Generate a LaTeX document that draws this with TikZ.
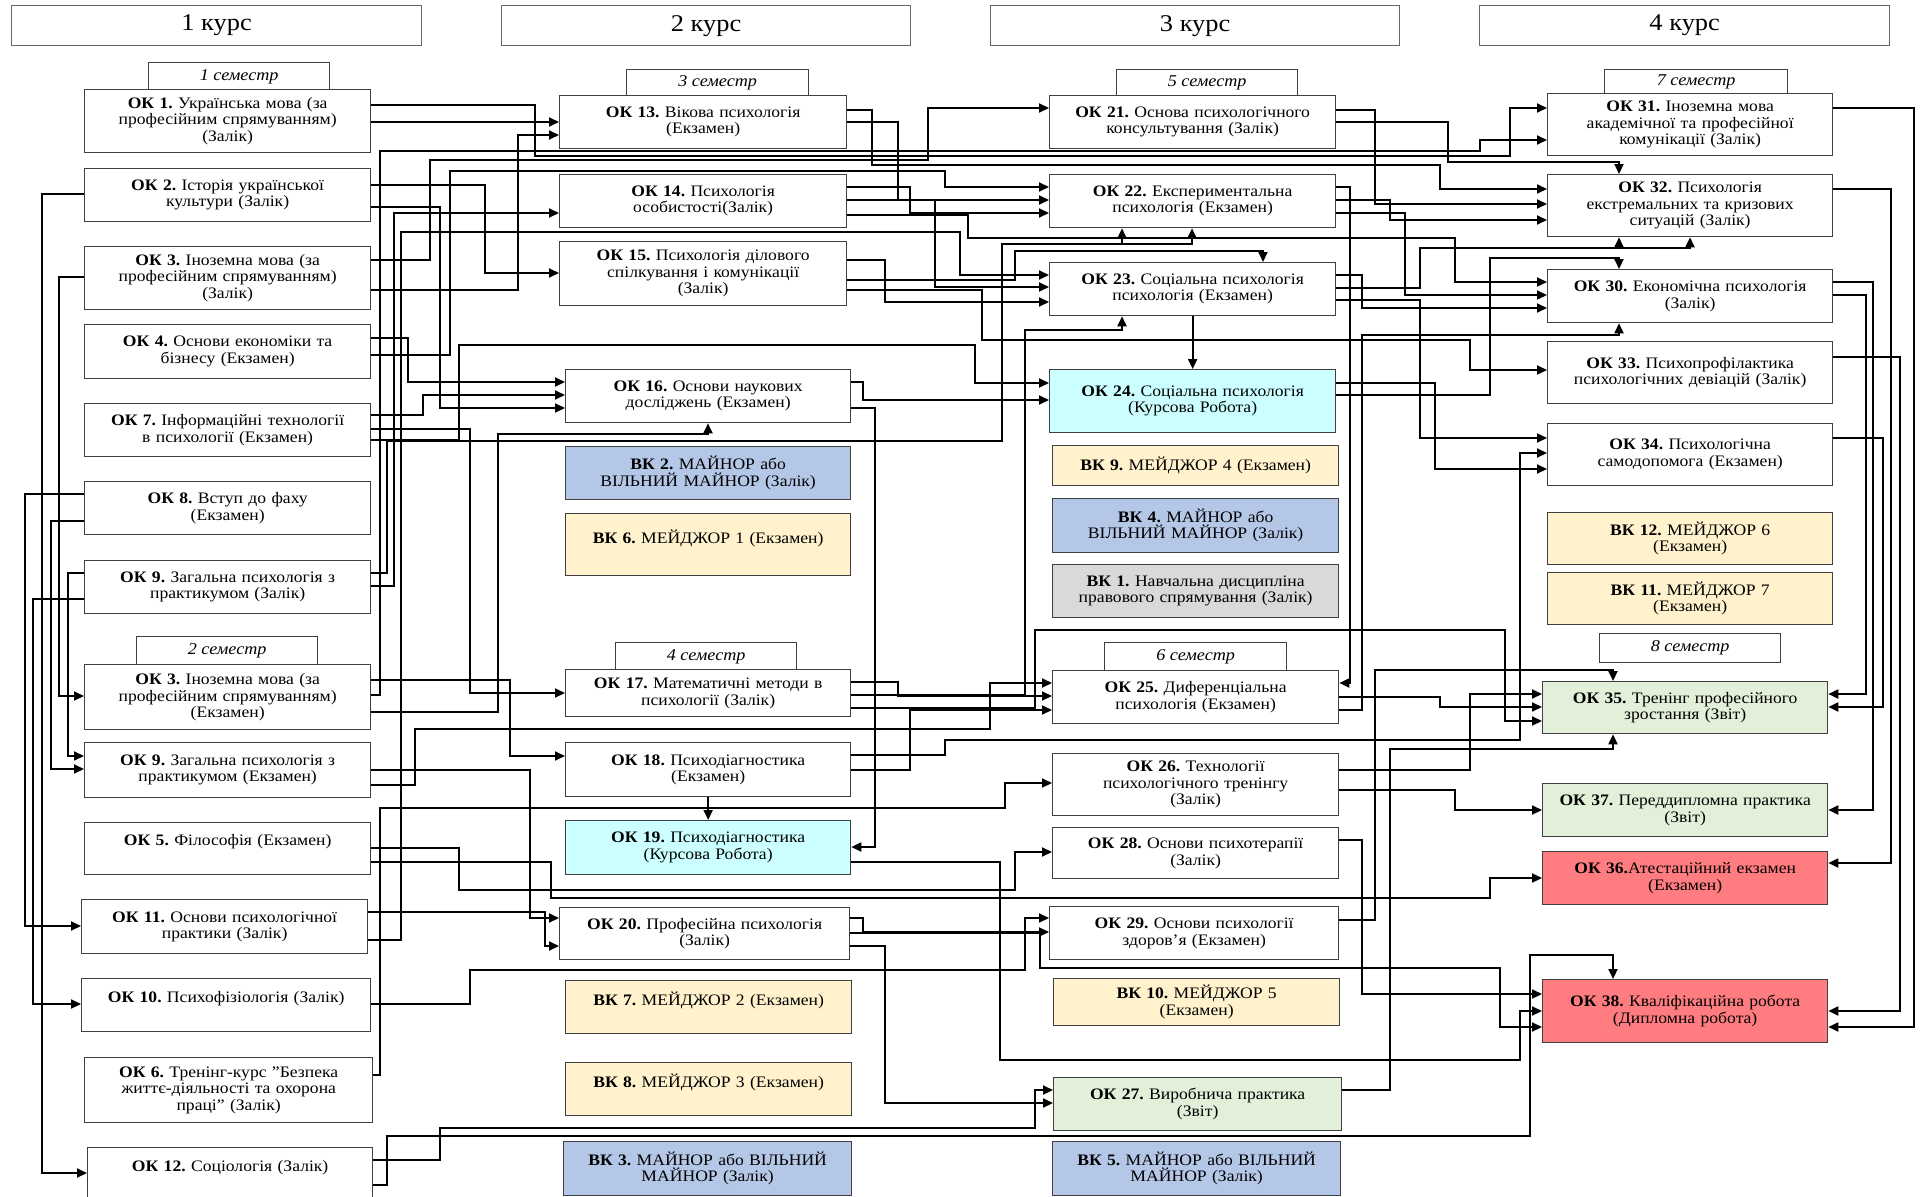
\documentclass[tikz,border=0pt]{standalone}
\usepackage{fontspec}
\setmainfont{Liberation Serif}[FakeStretch=1.1]
\usetikzlibrary{calc,arrows.meta}
\frenchspacing
\definecolor{bordc}{HTML}{404040}
\definecolor{vkblue}{HTML}{B4C7E7}
\definecolor{vkyel}{HTML}{FFF2CC}
\definecolor{vkcyan}{HTML}{CCFFFF}
\definecolor{vkgray}{HTML}{D9D9D9}
\definecolor{vkgreen}{HTML}{E2EFD9}
\definecolor{vkred}{HTML}{FF7C80}
\newcommand\boxfont{\fontsize{16}{16.5}\selectfont}
\newcommand\tabfont{\fontsize{16.5}{17}\selectfont\itshape}
\newcommand\hdrfont{\fontsize{24}{26}\selectfont}
\tikzset{
  box/.style={draw=bordc, line width=1.3pt, align=center, inner sep=0pt, font=\boxfont},
  tabbox/.style={draw=bordc, line width=1.3pt, fill=white, inner sep=0pt, font=\tabfont, anchor=north west},
  hdr/.style={draw=bordc!80, line width=1.3pt, fill=white, inner sep=0pt, font=\hdrfont, anchor=north west},
  arr/.style={draw=black, line width=1.9pt, -{Triangle[length=10pt,width=9pt]}},
}
% box: name x1 y1 x2 y2 fill text
\newcommand\bx[7]{%
  \pgfmathsetmacro\bw{#4-#2}\pgfmathsetmacro\bh{#5-#3}\pgfmathsetmacro\tw{#4-#2-4}%
  \node[box,fill=#6,minimum width=\bw pt,minimum height=\bh pt,text width=\tw pt,anchor=north west] (#1) at (#2pt,-#3pt) {#7};}
\newcommand\tb[6]{%
  \pgfmathsetmacro\bw{#4-#2}\pgfmathsetmacro\bh{#5-#3}%
  \node[tabbox,minimum width=\bw pt,minimum height=\bh pt] (#1) at (#2pt,-#3pt) {#6};}
\newcommand\hd[6]{%
  \pgfmathsetmacro\bw{#4-#2}\pgfmathsetmacro\bh{#5-#3}%
  \node[hdr,minimum width=\bw pt,minimum height=\bh pt] (#1) at (#2pt,-#3pt) {#6};}
% connectors
\newcommand\cA[5]{\draw[arr] let \p1=(#1.east),\p2=(#4.west) in (\x1,-#2pt) -| (#3pt,-#5pt) -- (\x2,-#5pt);}
\newcommand\cB[7]{\draw[arr] let \p1=(#1.east),\p2=(#6.west) in (\x1,-#2pt) -| (#3pt,-#4pt) -| (#5pt,-#7pt) -- (\x2,-#7pt);}
\newcommand\cL[5]{\draw[arr] let \p1=(#1.west),\p2=(#4.west) in (\x1,-#2pt) -| (#3pt,-#5pt) -- (\x2,-#5pt);}
\newcommand\cR[5]{\draw[arr] let \p1=(#1.east),\p2=(#4.east) in (\x1,-#2pt) -| (#3pt,-#5pt) -- (\x2,-#5pt);}
\newcommand\cT[6]{\draw[arr] let \p1=(#1.east),\p2=(#5.north) in (\x1,-#2pt) -| (#3pt,-#4pt) -| (#6pt,\y2);}
\newcommand\cS[6]{\draw[arr] let \p1=(#1.east),\p2=(#5.south) in (\x1,-#2pt) -| (#3pt,-#4pt) -| (#6pt,\y2);}
\newcommand\ok[1]{\textbf{ОК #1.}}
\newcommand\vk[1]{\textbf{ВК #1.}}

\begin{document}
\begin{tikzpicture}[x=1pt,y=1pt]
\useasboundingbox (0,0) rectangle (1921,-1196);
\fill[white] (0,0) rectangle (1921,-1196);

% headers
\hd{h1}{11}{5}{421}{45}{1 курс}
\hd{h2}{501}{5}{910}{45}{2 курс}
\hd{h3}{990}{5}{1399}{45}{3 курс}
\hd{h4}{1479}{5}{1889}{45}{4 курс}

% semester tabs
\tb{s1}{148}{62}{329}{90}{1 семестр}
\tb{s2}{136}{636}{317}{665}{2 семестр}
\tb{s3}{626}{69}{808}{96}{3 семестр}
\tb{s4}{615}{642}{796}{670}{4 семестр}
\tb{s5}{1116}{69}{1297}{96}{5 семестр}
\tb{s6}{1104}{642}{1286}{671}{6 семестр}
\tb{s7}{1604}{69}{1787}{94}{7 семестр}
\tb{s8}{1599}{633}{1780}{662}{8 семестр}

% column 1
\bx{ok1}{84}{89}{370}{152}{white}{\ok{1} Українська мова  (за\\професійним спрямуванням)\\(Залік)}
\bx{ok2}{84}{168}{370}{221}{white}{\ok{2} Історія української\\культури (Залік)}
\bx{ok3}{84}{246}{370}{309}{white}{\ok{3}  Іноземна мова  (за\\професійним спрямуванням)\\(Залік)}
\bx{ok4}{84}{324}{370}{378}{white}{\ok{4} Основи економіки та\\бізнесу (Екзамен)}
\bx{ok7}{84}{403}{370}{456}{white}{\ok{7} Інформаційні технології\\в психології (Екзамен)}
\bx{ok8}{84}{481}{370}{534}{white}{\ok{8} Вступ до фаху\\(Екзамен)}
\bx{ok9a}{84}{560}{370}{613}{white}{\ok{9} Загальна психологія з\\практикумом (Залік)}
\bx{ok3b}{84}{664}{370}{729}{white}{\ok{3} Іноземна мова (за\\професійним спрямуванням)\\(Екзамен)}
\bx{ok9b}{84}{742}{370}{797}{white}{\ok{9} Загальна психологія з\\практикумом (Екзамен)}
\bx{ok5}{84}{822}{370}{874}{white}{\ok{5} Філософія (Екзамен)\\\mbox{}}
\bx{ok11}{81}{899}{367}{953}{white}{\ok{11} Основи психологічної\\практики (Залік)}
\bx{ok10}{81}{978}{370}{1031}{white}{\ok{10} Психофізіологія (Залік)\\\mbox{}}
\bx{ok6}{84}{1057}{372}{1122}{white}{\ok{6} Тренінг-курс "Безпека\\життє-діяльності  та охорона\\праці" (Залік)}
\bx{ok12}{87}{1147}{372}{1200}{white}{\ok{12} Соціологія (Залік)\\\mbox{}}

% column 2
\bx{ok13}{559}{95}{846}{148}{white}{\ok{13} Вікова психологія\\(Екзамен)}
\bx{ok14}{559}{174}{846}{227}{white}{\ok{14} Психологія\\особистості(Залік)}
\bx{ok15}{559}{241}{846}{305}{white}{\ok{15} Психологія ділового\\спілкування і комунікації\\(Залік)}
\bx{ok16}{565}{369}{850}{422}{white}{\ok{16} Основи наукових\\досліджень (Екзамен)}
\bx{vk2}{565}{446}{850}{499}{vkblue}{\vk{2} МАЙНОР або\\ВІЛЬНИЙ МАЙНОР (Залік)}
\bx{vk6}{565}{513}{850}{575}{vkyel}{\vk{6} МЕЙДЖОР 1 (Екзамен)\\\mbox{}}
\bx{ok17}{565}{669}{850}{716}{white}{\ok{17} Математичні методи в\\психології (Залік)}
\bx{ok18}{565}{742}{850}{796}{white}{\ok{18} Психодіагностика\\(Екзамен)}
\bx{ok19}{565}{820}{850}{874}{vkcyan}{\ok{19} Психодіагностика\\(Курсова Робота)}
\bx{ok20}{559}{907}{849}{959}{white}{\ok{20} Професійна психологія\\(Залік)}
\bx{vk7}{565}{980}{851}{1033}{vkyel}{\vk{7} МЕЙДЖОР 2 (Екзамен)\\\mbox{}}
\bx{vk8}{565}{1062}{851}{1115}{vkyel}{\vk{8} МЕЙДЖОР 3 (Екзамен)\\\mbox{}}
\bx{vk3}{563}{1141}{851}{1195}{vkblue}{\vk{3} МАЙНОР або ВІЛЬНИЙ\\МАЙНОР (Залік)}

% column 3
\bx{ok21}{1049}{95}{1335}{148}{white}{\ok{21} Основа психологічного\\консультування (Залік)}
\bx{ok22}{1049}{174}{1335}{227}{white}{\ok{22} Експериментальна\\психологія  (Екзамен)}
\bx{ok23}{1049}{262}{1335}{315}{white}{\ok{23} Соціальна психологія\\психологія  (Екзамен)}
\bx{ok24}{1049}{369}{1335}{432}{vkcyan}{\ok{24} Соціальна психологія\\(Курсова Робота)}
\bx{vk9}{1052}{445}{1338}{485}{vkyel}{\vk{9} МЕЙДЖОР 4 (Екзамен)}
\bx{vk4}{1052}{498}{1338}{552}{vkblue}{\vk{4} МАЙНОР або\\ВІЛЬНИЙ МАЙНОР (Залік)}
\bx{vk1}{1052}{564}{1338}{617}{vkgray}{\vk{1} Навчальна дисципліна\\правового спрямування (Залік)}
\bx{ok25}{1052}{670}{1338}{723}{white}{\ok{25} Диференціальна\\психологія (Екзамен)}
\bx{ok26}{1052}{753}{1338}{815}{white}{\ok{26} Технології\\психологічного тренінгу\\(Залік)}
\bx{ok28}{1052}{827}{1338}{878}{white}{\ok{28} Основи психотерапії\\(Залік)}
\bx{ok29}{1049}{906}{1338}{959}{white}{\ok{29} Основи психології\\здоров'я  (Екзамен)}
\bx{vk10}{1053}{978}{1339}{1025}{vkyel}{\vk{10} МЕЙДЖОР 5\\(Екзамен)}
\bx{ok27}{1053}{1077}{1341}{1130}{vkgreen}{\ok{27} Виробнича практика\\(Звіт)}
\bx{vk5}{1052}{1141}{1340}{1195}{vkblue}{\vk{5} МАЙНОР або ВІЛЬНИЙ\\МАЙНОР (Залік)}

% column 4
\bx{ok31}{1547}{93}{1832}{155}{white}{\ok{31} Іноземна мова\\академічної та  професійної\\комунікації (Залік)}
\bx{ok32}{1547}{174}{1832}{236}{white}{\ok{32} Психологія\\екстремальних та кризових\\ситуацій (Залік)}
\bx{ok30}{1547}{269}{1832}{322}{white}{\ok{30} Економічна психологія\\(Залік)}
\bx{ok33}{1547}{341}{1832}{403}{white}{\ok{33} Психопрофілактика\\психологічних девіацій  (Залік)}
\bx{ok34}{1547}{423}{1832}{485}{white}{\ok{34} Психологічна\\самодопомога  (Екзамен)}
\bx{vk12}{1547}{512}{1832}{564}{vkyel}{\vk{12} МЕЙДЖОР 6\\(Екзамен)}
\bx{vk11}{1547}{572}{1832}{624}{vkyel}{\vk{11} МЕЙДЖОР 7\\(Екзамен)}
\bx{ok35}{1542}{681}{1827}{733}{vkgreen}{\ok{35} Тренінг професійного\\зростання (Звіт)}
\bx{ok37}{1542}{783}{1827}{836}{vkgreen}{\ok{37} Переддипломна практика\\(Звіт)}
\bx{ok36}{1542}{851}{1827}{904}{vkred}{\ok{36}Атестаційний екзамен\\(Екзамен)}
\bx{ok38}{1542}{979}{1827}{1042}{vkred}{\ok{38} Кваліфікаційна робота\\(Дипломна робота)}

% ---------- connectors ----------
% far left
\cL{ok2}{194}{42}{ok12}{1173}
\cL{ok3}{277}{59}{ok3b}{696}
\cL{ok8}{494}{25}{ok11}{926}
\cL{ok8}{521}{51}{ok9b}{769}
\cL{ok9a}{573}{68}{ok9b}{756}
\cL{ok9a}{599}{33}{ok10}{1004}

% column 1 -> column 2
\draw[arr] let \p1=(ok1.east),\p2=(ok13.west) in (\x1,-122pt) -- (\x2,-122pt);
\cA{ok9a}{586}{394}{ok14}{213}
\cA{ok3}{290}{518}{ok13}{135}
\cA{ok2}{185}{485}{ok15}{273}
\cA{ok4}{338}{408}{ok16}{382}
\cA{ok7}{415}{423}{ok16}{395}
\cA{ok2}{207}{440}{ok16}{408}
\cA{ok7}{429}{470}{ok17}{693}
\cA{ok3b}{680}{510}{ok18}{756}
\cA{ok9b}{770}{530}{ok20}{918}
\cA{ok11}{912}{545}{ok20}{946}
\cS{ok3b}{712}{498}{434}{ok16}{708}

% column 1 -> column 3
\draw[arr] let \p1=(ok9a.east),\p2=(ok22.south) in (\x1,-573pt) -| (387pt,-441pt) -| (1002pt,-244pt) -| (1192pt,\y2);
\coordinate (j1) at (1122,-244);
\draw[arr] (j1) -- (j1 |- ok22.south);
\cB{ok3}{260}{430}{160}{928}{ok21}{108}
\cB{ok4}{355}{450}{171}{945}{ok22}{187}
\cB{ok11}{940}{401}{232}{960}{ok23}{275}
\cB{ok7}{440}{459}{345}{975}{ok24}{383}
\cB{ok9b}{785}{415}{729}{990}{ok25}{683}
\cB{ok6}{1075}{380}{808}{1005}{ok26}{783}
\cB{ok5}{848}{459}{890}{1015}{ok28}{852}
\cB{ok10}{1004}{470}{970}{1025}{ok29}{918}
\cB{ok12}{1160}{440}{1128}{1035}{ok27}{1090}

% column 1 -> column 4
\cB{ok3b}{695}{380}{151}{1480}{ok31}{140}
\cB{ok1}{105}{535}{156}{1510}{ok31}{108}
\cB{ok5}{862}{551}{898}{1490}{ok36}{878}
\draw[arr] let \p1=(ok12.east),\p2=(ok38.north) in (\x1,-1185pt) -| (387pt,-1136pt) -| (1530pt,-955pt) -| (1613pt,\y2);

% column 2 -> column 3
\cA{ok13}{122}{898}{ok22}{200}
\cA{ok14}{187}{910}{ok22}{213}
\cA{ok14}{200}{935}{ok23}{287}
\cA{ok15}{260}{885}{ok23}{302}
\cA{ok16}{382}{863}{ok24}{400}
\cA{ok17}{682}{898}{ok25}{696}
\cA{ok18}{770}{910}{ok25}{710}
\cA{ok20}{918}{863}{ok29}{932}
\cA{ok20}{946}{885}{ok27}{1103}
\cT{ok15}{280}{1015}{251}{ok23}{1263}
\cS{ok17}{695}{1025}{330}{ok23}{1122}
\draw[arr] (ok18.south) -- (ok19.north);
\draw[arr] (ok23.south) -- (ok24.north);

% column 2 -> column 4
\cB{ok13}{110}{872}{165}{1440}{ok32}{189}
\cB{ok14}{215}{968}{238}{1455}{ok30}{282}
\cB{ok15}{290}{982}{340}{1470}{ok33}{370}
\cB{ok17}{708}{1035}{630}{1505}{ok35}{721}
\cB{ok18}{755}{945}{740}{1520}{ok34}{453}
\cB{ok19}{862}{1000}{1060}{1520}{ok38}{1011}
\cB{ok20}{933}{1040}{968}{1500}{ok38}{1027}

% column 3 -> column 4
\cT{ok21}{122}{1448}{162}{ok32}{1619}
\cA{ok21}{110}{1375}{ok32}{204}
\cA{ok22}{200}{1390}{ok32}{220}
\cA{ok22}{213}{1405}{ok30}{295}
\cA{ok23}{275}{1362}{ok30}{308}
\cA{ok23}{300}{1420}{ok34}{438}
\cA{ok24}{383}{1435}{ok34}{469}
\cA{ok25}{697}{1440}{ok35}{707}
\cA{ok26}{770}{1470}{ok35}{694}
\cA{ok26}{790}{1455}{ok37}{810}
\cA{ok28}{840}{1362}{ok38}{994}
\cT{ok29}{920}{1375}{670}{ok35}{1613}
\cS{ok27}{1090}{1390}{749}{ok35}{1613}
\cS{ok23}{288}{1420}{248}{ok32}{1690}
\coordinate (j2) at (1619,-248);
\draw[arr] (j2) -- (j2 |- ok32.south);
\cT{ok24}{395}{1490}{258}{ok30}{1619}
\cS{ok25}{710}{1362}{335}{ok30}{1619}

% right-side returns
\cR{ok22}{187}{1350}{ok25}{683}
\cR{ok16}{408}{875}{ok19}{847}
\cR{ok31}{108}{1914}{ok38}{1027}
\cR{ok32}{189}{1891}{ok36}{863}
\cR{ok30}{282}{1873}{ok37}{810}
\cR{ok30}{295}{1866}{ok35}{694}
\cR{ok33}{357}{1900}{ok38}{1011}
\cR{ok34}{438}{1883}{ok35}{707}
\end{tikzpicture}
\end{document}
